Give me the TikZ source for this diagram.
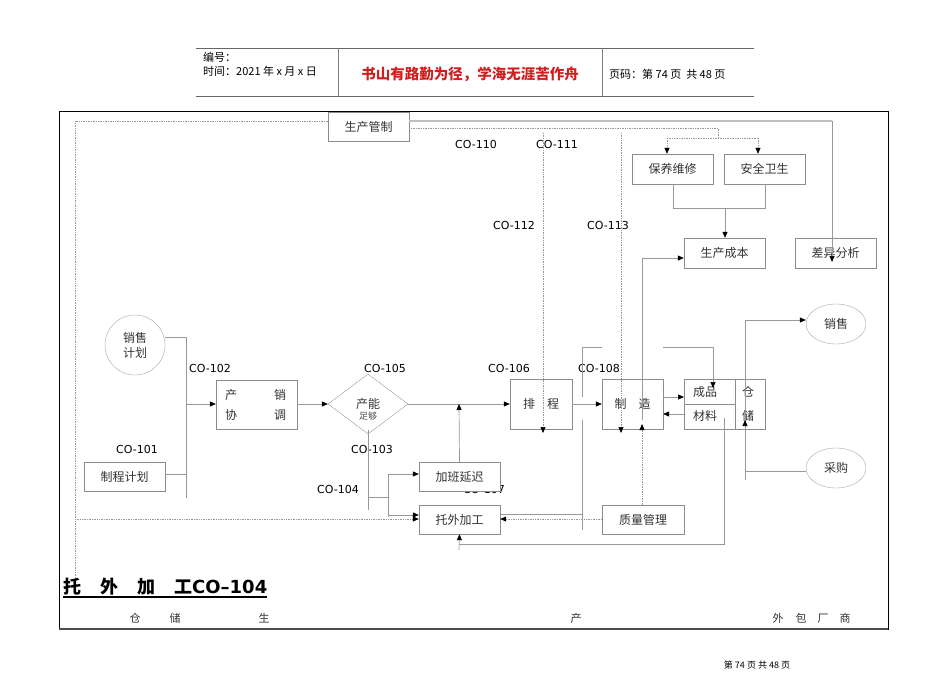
\documentclass[tikz,border=0pt]{standalone}
\usepackage{fontspec}
\setmainfont{Noto Sans CJK SC}
\newfontfamily\lab{DejaVu Sans}
\usetikzlibrary{shapes.geometric,arrows.meta}
\begin{document}
\begin{tikzpicture}[x=1pt,y=-1pt,
  gl/.style={draw=black!40,line width=0.7pt},
  dl/.style={draw=black!40,densely dotted,line width=0.7pt},
  ar/.style={-{Triangle[length=6pt,width=5pt,color=black]}},
  bx/.style={draw=black!45,fill=white,rectangle,inner sep=0pt,font=\fontsize{12}{14}\selectfont,text=black!80},
  co/.style={font=\lab\fontsize{11}{13}\selectfont,anchor=base,inner sep=0pt}]
\useasboundingbox (0,0) rectangle (950,672);
% header
\draw[black!60,line width=0.8pt] (196,48)--(754,48) (196,96)--(754,96);
\draw[black!50,line width=0.8pt] (338,48)--(338,96) (602,48)--(602,96);
\node[anchor=base west,inner sep=0,font=\fontsize{11}{12}\selectfont] (h1) at (203,61) {编号：};
\node[anchor=base west,inner sep=0,font=\fontsize{11}{12}\selectfont] (h2) at (203,75) {时间：2021 年 x 月 x 日};
\node[anchor=base,inner sep=0,font=\bfseries\fontsize{14.5}{16}\selectfont,text={rgb,255:red,210;green,30;blue,30}] (h3) at (470,79) {书山有路勤为径，学海无涯苦作舟};
\node[anchor=base west,inner sep=0,font=\fontsize{11}{12}\selectfont] (h4) at (609,78) {页码：第 74 页\ \ 共 48 页};
% frame
\draw[black,line width=0.8pt] (59,111) rectangle (888,629);
\draw[black!70,line width=1.4pt] (59,629)--(888,629);
% dotted outer
\draw[dl] (328,121)--(75,121)--(75,595);
% top nodes
\node[bx,minimum width=81,minimum height=29] (pm) at (368.5,126.5) {生产管制};
\node[bx,minimum width=81,minimum height=30] (by) at (672.5,169) {保养维修};
\node[bx,minimum width=81,minimum height=30] (aq) at (764.5,169) {安全卫生};
\node[bx,minimum width=81,minimum height=30] (cb) at (724.5,253) {生产成本};
\node[bx,minimum width=81,minimum height=30] (cy) at (835.5,253) {差异分析};
\draw[black!25,line width=2pt] (pm.east|-0,121)--(832,121);
\draw[gl,ar] (832,121)--(832,262);
\draw[dl] (pm.east|-0,128)--(718,128)--(718,138);
\draw[dl] (667,138)--(758,138);
\draw[dl,ar] (667,138)--(by.north-|667,0);
\draw[dl,ar] (758,138)--(aq.north-|758,0);
\draw[gl] (673,184)--(673,208)--(765,208)--(765,184);
\draw[gl,ar] (725,208)--(cb.north-|725,0);
\node[co] (c110) at (476,148) {CO-110};
\node[co] (c111) at (557,148) {CO-111};
\node[co] (c112) at (514,229) {CO-112};
\node[co] (c113) at (608,229) {CO-113};
% left
\node[circle,draw=black!35,minimum size=60,inner sep=0,font=\fontsize{12}{15}\selectfont,align=center,text=black!80] (xsjh) at (135,345) {销售\\计划};
\node[bx,minimum width=81,minimum height=29] (zcjh) at (124.5,476.5) {制程计划};
\node[co] (c102) at (210,372) {CO-102};
\node[co] (c101) at (137,453) {CO-101};
\draw[gl] (165,337)--(186,337)--(186,498);
\draw[gl] (zcjh.east|-0,474)--(186,474);
\node[bx,minimum width=81,minimum height=49] (cx) at (256.5,404.5) {};
\node[anchor=base,inner sep=0,font=\fontsize{12}{14}\selectfont,text=black!80] (cx1) at (231,399) {产};
\node[anchor=base,inner sep=0,font=\fontsize{12}{14}\selectfont,text=black!80] (cx2) at (280,399) {销};
\node[anchor=base,inner sep=0,font=\fontsize{12}{14}\selectfont,text=black!80] (cx3) at (231,419) {协};
\node[anchor=base,inner sep=0,font=\fontsize{12}{14}\selectfont,text=black!80] (cx4) at (280,419) {调};
\draw[gl,ar] (186,404)--(cx.west|-0,404);
\node[diamond,draw=black!40,minimum width=80,minimum height=60,inner sep=0,text=black!80] (cn) at (368,404) {};
\node[anchor=base,inner sep=0,font=\fontsize{12}{12}\selectfont,text=black!80] (cnt1) at (368,408) {产能};
\node[anchor=base,inner sep=0,font=\fontsize{9}{9}\selectfont,text=black!70] (cnt2) at (368,419) {足够};
\draw[gl,ar] (cx.east|-0,404)--(cn.west);
\node[co] (c105) at (385,372) {CO-105};
\node[co] (c103) at (372,453) {CO-103};
\node[co] (c104) at (338,493) {CO-104};
\node[co] (c107) at (484,493) {CO-107};
\node[bx,minimum width=81,minimum height=29] (jb) at (459.5,476.5) {加班延迟};
\node[bx,minimum width=81,minimum height=29] (tw) at (459.5,519.5) {托外加工};
\node[bx,minimum width=62,minimum height=50] (pc) at (541,404) {排\quad 程};
\node[bx,minimum width=61,minimum height=50] (zz) at (632.5,404) {制\quad 造};
\node[bx,minimum width=82,minimum height=29] (zl) at (643,519.5) {质量管理};
\node[co] (c106) at (509,372) {CO-106};
\node[co] (c108) at (599,372) {CO-108};
\draw[gl,ar] (cn.east)--(pc.west);
\draw[gl,ar] (jb.north)--(459,404);
\draw[gl] (368,430)--(368,510);
\draw[gl] (368,497)--(388,497);
\draw[gl] (388,474)--(388,517);
\draw[gl,ar] (388,474)--(jb.west|-0,474);
\draw[gl,ar] (388,515)--(tw.west|-0,515);
\draw[dl,ar] (75,519)--(tw.west|-0,519);
\draw[gl,ar] (pc.east)--(zz.west);
\draw[dl,ar] (543,133)--(543,433);
\draw[dl,ar] (621,133)--(621,433);
\draw[gl] (582,397)--(582,347)--(602,347);
\draw[gl] (582,420)--(582,530);
\draw[gl] (582,514)--(tw.east|-0,514);
\draw[dl,ar] (zl.west|-0,519)--(tw.east|-0,519);
\draw[dl,ar] (642,505)--(642,424);
% storage
\node[bx,minimum width=81,minimum height=50] (cc) at (724.5,404) {};
\draw[black!45,line width=0.7pt] (735,379)--(735,429) (684,404)--(735,404);
\node[anchor=base,inner sep=0,font=\fontsize{12}{14}\selectfont,text=black!80] (cp) at (705,396) {成品};
\node[anchor=base,inner sep=0,font=\fontsize{12}{14}\selectfont,text=black!80] (cl) at (705,420) {材料};
\node[anchor=base,inner sep=0,font=\fontsize{12}{14}\selectfont,text=black!80] (c1) at (748,396) {仓};
\node[anchor=base,inner sep=0,font=\fontsize{12}{14}\selectfont,text=black!80] (c2) at (748,420) {储};
\draw[gl] (663,347)--(713,347);
\draw[gl,ar] (713,347)--(713,388);
\draw[gl] (642,420)--(642,258);
\draw[gl,ar] (642,258)--(cb.west|-0,258);
\draw[gl,ar] (zz.east|-0,397)--(684,397);
\draw[gl,ar] (684,414)--(zz.east|-0,414);
\node[ellipse,draw=black!35,minimum width=60,minimum height=40,inner sep=0,font=\fontsize{12}{14}\selectfont,text=black!80] (xs) at (836,324) {销售};
\node[ellipse,draw=black!35,minimum width=60,minimum height=40,inner sep=0,font=\fontsize{12}{14}\selectfont,text=black!80] (cg) at (836,468) {采购};
\draw[gl,ar] (745,480)--(745,320)--(xs.west|-0,320);
\draw[gl,ar] (cg.west|-0,471)--(745,471)--(745,420);
\draw[gl] (724,418)--(724,545);
\draw[gl] (724,544)--(459,544);
\draw[gl,ar] (459,550)--(tw.south);
% bottom
\node[anchor=base west,inner sep=0,font=\bfseries\fontsize{18}{19}\selectfont] (tt) at (63,593) {托\hspace{19pt}外\hspace{19pt}加\hspace{19pt}工\lab CO–104};
\draw[black,line width=1.2pt] (63,597)--(tt.east|-0,597);
\foreach \t/\x [count=\i] in {仓/135,储/175,生/264,产/576,外/778,包/801,厂/823,商/845}
  \node[anchor=base,inner sep=0,font=\fontsize{11}{13}\selectfont,text=black!80] (b\i) at (\x,622) {\t};
\node[anchor=base,inner sep=0,font=\fontsize{9}{10}\selectfont] (ft) at (757,668) {第 74 页 共 48 页};
\end{tikzpicture}
\end{document}
